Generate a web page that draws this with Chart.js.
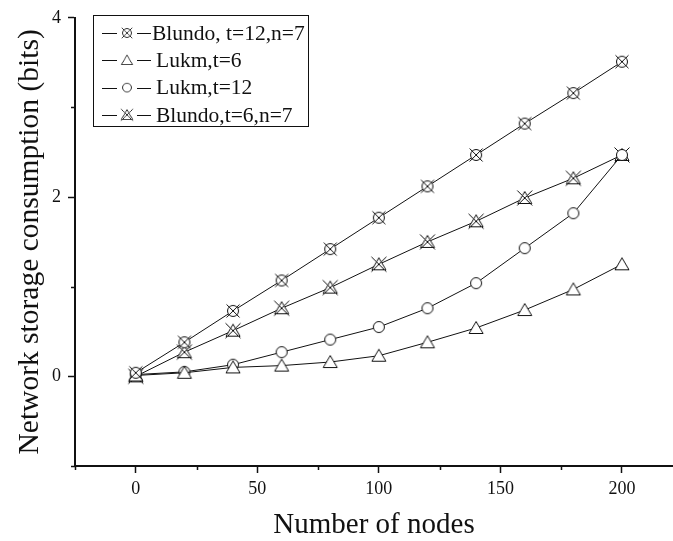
<!DOCTYPE html>
<html>
<head>
<meta charset="utf-8">
<script src="https://cdn.jsdelivr.net/npm/chart.js@4.4.1/dist/chart.umd.min.js"></script>
<style>
  html, body { margin: 0; padding: 0; background: #fff; }
  #wrap { width: 673px; height: 541px; }
</style>
</head>
<body>
<div id="wrap"><canvas id="my-chart" width="673" height="541"></canvas></div>
<script>
// data
const nodes = [0, 20, 40, 60, 80, 100, 120, 140, 160, 180, 200]
const blundo12 = [0.04, 0.38, 0.73, 1.07, 1.42, 1.77, 2.12, 2.47, 2.82, 3.16, 3.51]
const lukm6 = [0.01, 0.04, 0.10, 0.12, 0.16, 0.23, 0.38, 0.54, 0.74, 0.97, 1.25]
const lukm12 = [0.02, 0.05, 0.13, 0.27, 0.41, 0.55, 0.76, 1.04, 1.43, 1.82, 2.47]
const blundo6 = [0.0, 0.27, 0.51, 0.76, 0.99, 1.25, 1.50, 1.73, 1.99, 2.21, 2.47]

const xTicks = [0, 50, 100, 150, 200]
const xMinor = [-25, 25, 75, 125, 175]
const yTicks = [0, 2, 4]
const yMinor = [-1, 1, 3]

const labels = ['Blundo, t=12,n=7', 'Lukm,t=6', 'Lukm,t=12', 'Blundo,t=6,n=7']

const serif = "'Liberation Serif', 'Times New Roman', serif"
const ink = '#111'

// marker images
function makeMarker(draw) {
  const c = document.createElement('canvas')
  c.width = 20
  c.height = 20
  const g = c.getContext('2d')
  g.strokeStyle = ink
  g.fillStyle = '#fff'
  g.lineWidth = 1
  draw(g, 10, 10)
  return c
}

function circle(g, cx, cy, r) {
  g.beginPath()
  g.arc(cx, cy, r, 0, Math.PI * 2)
  g.fill()
  g.stroke()
}

function triangle(g, cx, cy) {
  g.beginPath()
  g.moveTo(cx, cy - 6.5)
  g.lineTo(cx - 7, cy + 5.5)
  g.lineTo(cx + 7, cy + 5.5)
  g.closePath()
  g.fill()
  g.stroke()
}

function cross(g, cx, cy, d) {
  g.beginPath()
  g.moveTo(cx - d, cy - d)
  g.lineTo(cx + d, cy + d)
  g.moveTo(cx + d, cy - d)
  g.lineTo(cx - d, cy + d)
  g.stroke()
}

const mCircleX = makeMarker((g, x, y) => { circle(g, x, y, 5.5); cross(g, x, y, 6.5) })
const mTriangle = makeMarker((g, x, y) => { triangle(g, x, y) })
const mCircle = makeMarker((g, x, y) => { circle(g, x, y, 5.5) })
const mTriangleX = makeMarker((g, x, y) => { triangle(g, x, y); cross(g, x, y, 7.5) })

const markers = [mCircleX, mTriangle, mCircle, mTriangleX]
const series = [blundo12, lukm6, lukm12, blundo6]

const datasets = series.map((vals, i) => ({
  label: labels[i],
  data: nodes.map((n, j) => ({ x: n, y: vals[j] })),
  borderColor: ink,
  borderWidth: 1,
  pointStyle: markers[i],
  pointRadius: 7,
  fill: false,
  tension: 0,
}))

// minor ticks, drawn from the scales
const minorTicks = {
  id: 'minorTicks',
  afterDraw(chart) {
    const ctx = chart.ctx
    const xs = chart.scales.x
    const ys = chart.scales.y
    ctx.save()
    ctx.strokeStyle = ink
    ctx.lineWidth = 1.5
    ctx.beginPath()
    xMinor.forEach(v => {
      const px = Math.round(xs.getPixelForValue(v)) + 0.5
      ctx.moveTo(px, xs.top)
      ctx.lineTo(px, xs.top + 4)
    })
    yMinor.forEach(v => {
      const py = Math.round(ys.getPixelForValue(v)) + 0.5
      ctx.moveTo(ys.right, py)
      ctx.lineTo(ys.right - 4, py)
    })
    ctx.stroke()
    ctx.restore()
  }
}

// boxed legend inside the plot
const boxLegend = {
  id: 'boxLegend',
  afterDraw(chart) {
    const ctx = chart.ctx
    const left = 93, top = 15, w = 215, h = 111
    ctx.save()
    ctx.fillStyle = '#fff'
    ctx.fillRect(left, top, w, h)
    ctx.strokeStyle = ink
    ctx.lineWidth = 1
    ctx.strokeRect(left + 0.5, top + 0.5, w, h)
    ctx.font = '21.5px ' + serif
    ctx.textBaseline = 'middle'
    ctx.fillStyle = ink
    chart.data.datasets.forEach((ds, i) => {
      const y = 33 + i * 27.3
      const ly = Math.round(y) + 0.5
      ctx.beginPath()
      ctx.moveTo(102, ly)
      ctx.lineTo(117, ly)
      ctx.moveTo(137, ly)
      ctx.lineTo(151, ly)
      ctx.stroke()
      const img = markers[i]
      ctx.save()
      ctx.translate(127, y)
      ctx.scale(0.8, 0.8)
      ctx.drawImage(img, -10, -10)
      ctx.restore()
      ctx.fillText(ds.label, i === 0 ? 152 : 156, y + 1)
    })
    ctx.restore()
  }
}

const ctx = document.getElementById('my-chart').getContext('2d')

const config = {
  type: 'line',
  data: { datasets: datasets },
  options: {
    responsive: false,
    animation: false,
    layout: { autoPadding: false, padding: { top: 16, right: 0, left: 0, bottom: 0 } },
    plugins: {
      legend: { display: false },
      tooltip: { enabled: false },
    },
    scales: {
      x: {
        type: 'linear',
        min: -25,
        max: 221,
        afterBuildTicks: (scale) => { scale.ticks = xTicks.map(v => ({ value: v })) },
        afterFit: (scale) => { scale.height = 75 },
        ticks: { font: { family: serif, size: 18 }, color: ink, padding: 5, maxRotation: 0 },
        grid: { drawOnChartArea: false, drawTicks: true, tickLength: 7, tickColor: ink, tickWidth: 1.5 },
        border: { display: true, color: ink, width: 2 },
        title: { display: true, text: 'Number of nodes', font: { family: serif, size: 29, lineHeight: 1.1 }, color: ink, padding: { top: 0, bottom: 0 } },
      },
      y: {
        min: -1,
        max: 4,
        afterBuildTicks: (scale) => { scale.ticks = yTicks.map(v => ({ value: v })) },
        afterFit: (scale) => { scale.width = 75 },
        ticks: { font: { family: serif, size: 18 }, color: ink, padding: 7 },
        grid: { drawOnChartArea: false, drawTicks: true, tickLength: 7, tickColor: ink, tickWidth: 1.5 },
        border: { display: true, color: ink, width: 2 },
        title: { display: true, text: 'Network storage consumption (bits)', font: { family: serif, size: 29.5, lineHeight: 1.1 }, color: ink, padding: { top: 14, bottom: 0 } },
      },
    },
  },
  plugins: [minorTicks, boxLegend],
}

const myChart = new Chart(ctx, config)
</script>
</body>
</html>
